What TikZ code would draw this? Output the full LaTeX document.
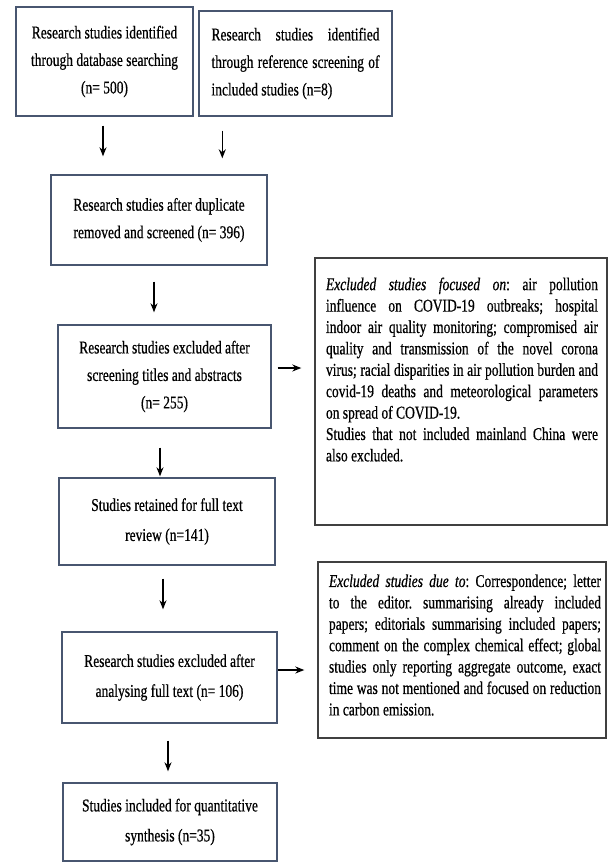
\documentclass[tikz,border=0pt]{standalone}
\usepackage{fontspec}
\setmainfont{Liberation Serif}[FakeStretch=0.75,FakeBold=0.6]
\usetikzlibrary{positioning,arrows.meta}
\definecolor{boxblue}{RGB}{72,86,112}

\begin{document}
\begin{tikzpicture}[x=1pt,y=-1pt,
 stage/.style={draw=boxblue,line width=1.4pt,align=center,inner sep=0pt,
  font=\fontsize{18}{27.5}\selectfont},
 stagewide/.style={stage,font=\fontsize{18}{30}\selectfont},
 note/.style={draw=black!75,line width=1.4pt,inner sep=0pt},
 notetext/.style={text width=272pt,align=justify,inner sep=0pt,
  font=\fontsize{18}{21.4}\selectfont\frenchspacing},
 flow/.style={-{Stealth[length=9pt,width=7pt]},line width=1.3pt}]
\useasboundingbox (0,0) rectangle (610,863);
% left column
\node[stage,minimum width=177pt,minimum height=109pt] (ident) at (104.5,61.5)
 {Research studies identified\\through database searching\\(n= 500)};
\node[stage,align=justify,text width=168pt,minimum width=193pt,minimum height=105pt] (refscreen) at (295.5,63.5)
 {Research studies identified \linebreak through reference screening of \linebreak included studies (n=8)};
\node[stage,minimum width=216pt,minimum height=90pt] (dedup) at (159,220)
 {Research studies after duplicate\\removed and screened (n= 396)};
\node[stage,minimum width=213pt,minimum height=103pt] (titles) at (164.5,376.5)
 {Research studies excluded after\\screening titles and abstracts\\(n= 255)};
\node[stagewide,minimum width=216pt,minimum height=87pt] (retained) at (167,521.5)
 {Studies retained for full text\\review (n=141)};
\node[stagewide,minimum width=215pt,minimum height=91pt] (fulltext) at (169.5,677.5)
 {Research studies excluded after\\analysing full text (n= 106)};
\node[stagewide,minimum width=214pt,minimum height=78pt] (included) at (170,822)
 {Studies included for quantitative\\synthesis (n=35)};
% right column
\node[note,minimum width=292pt,minimum height=267pt] (focus) at (461,391.5) {};
\node[notetext,anchor=north] (focustext) at ([xshift=1pt,yshift=-20pt]focus.north)
 {\textit{Excluded studies focused on}: air pollution \linebreak influence on COVID-19 outbreaks; hospital \linebreak indoor air quality monitoring; compromised air \linebreak quality and transmission of the novel corona \linebreak virus; racial disparities in air pollution burden and \linebreak covid-19 deaths and meteorological parameters \linebreak on spread of COVID-19.\\
 Studies that not included mainland China were \linebreak also excluded.};
\node[note,minimum width=288pt,minimum height=176pt] (dueto) at (462,650) {};
\node[notetext,anchor=north] (duetotext) at ([xshift=3pt,yshift=-13pt]dueto.north)
 {\textit{Excluded studies due to}: Correspondence; letter \linebreak to the editor. summarising already included \linebreak papers; editorials summarising included papers; \linebreak comment on the complex chemical effect; global \linebreak studies only reporting aggregate outcome, exact \linebreak time was not mentioned and focused on reduction \linebreak in carbon emission.};
% arrows
\draw[flow,shorten <=9pt,shorten >=18pt] ([xshift=-1.5pt]ident.south) -- ([xshift=-1.5pt]ident.south |- dedup.north);
\draw[flow,shorten <=14pt,shorten >=16pt] ([xshift=24pt]refscreen.south west) -- ([xshift=24pt]refscreen.south west |- dedup.north);
\draw[flow,shorten <=16pt,shorten >=12pt] ([xshift=-5pt]dedup.south) -- ([xshift=-5pt]dedup.south |- titles.north);
\draw[flow,shorten <=19pt,shorten >=1pt] ([xshift=-4.5pt]titles.south) -- ([xshift=-4.5pt]titles.south |- retained.north);
\draw[flow,shorten <=13pt,shorten >=22pt] ([xshift=-4pt]retained.south) -- ([xshift=-4pt]retained.south |- fulltext.north);
\draw[flow,shorten <=17pt,shorten >=11pt] ([xshift=-1.5pt]fulltext.south) -- ([xshift=-1.5pt]fulltext.south |- included.north);
\draw[flow,shorten <=6pt,shorten >=13pt] ([yshift=8.5pt]titles.east) -- ([yshift=8.5pt]titles.east -| focus.west);
\draw[flow,shorten >=13pt] ([yshift=7.5pt]fulltext.east) -- ([yshift=7.5pt]fulltext.east -| dueto.west);
\end{tikzpicture}
\end{document}
